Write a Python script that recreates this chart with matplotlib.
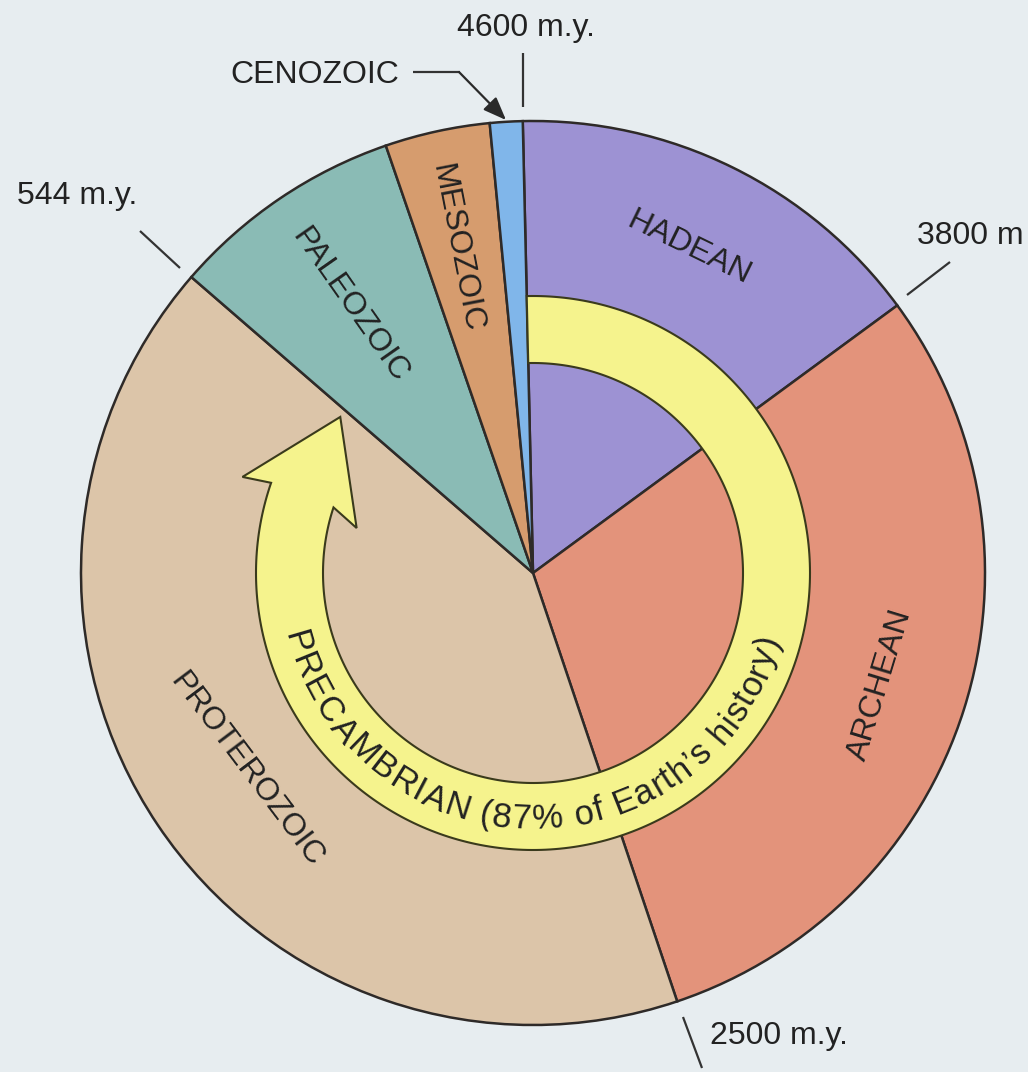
import numpy as np
import matplotlib
matplotlib.use("Agg")
import matplotlib.pyplot as plt
from matplotlib.patches import Polygon
from matplotlib.font_manager import FontProperties, findfont, get_font

# ---------------- data ----------------
eras = ["HADEAN", "ARCHEAN", "PROTEROZOIC", "PALEOZOIC", "MESOZOIC", "CENOZOIC"]
# share of the circle drawn for each era (degrees)
wedge_share_deg = [55.0, 107.7, 149.5, 30.1, 13.5, 4.2]
era_colors = ["#9d92d3", "#e3937b", "#dcc5a9", "#8abbb5", "#d69c6e", "#80b6ea"]
boundary_labels = ["4600 m.y.", "3800 m", "2500 m.y.", "544 m.y."]
ring_text = "PRECAMBRIAN (87% of Earth\u2019s history)"

W, H = 1028, 1072
fig = plt.figure(figsize=(W / 100, H / 100), dpi=100)
fig.patch.set_facecolor("#e7edf0")
ax = fig.add_axes([0, 0, 1, 1])
ax.set_facecolor("#e7edf0")

FONT = "Liberation Sans"
TXT = "#222222"

def Y(y_img):
    return H - y_img

cx, cy, R = 533, Y(573), 452

ax.pie(wedge_share_deg, colors=era_colors, startangle=91.3, counterclock=False,
       center=(cx, cy), radius=R,
       wedgeprops=dict(edgecolor="#2e2a28", linewidth=1.8))

def pol(theta_c, r):
    t = np.deg2rad(theta_c)
    return cx + r * np.sin(t), cy + r * np.cos(t)

# ---------------- yellow ring arrow ----------------
r_in, r_out = 210, 277
a0, a1 = -1.3, 289.0
ang = np.linspace(a0, a1, 300)
pts = [pol(a, r_out) for a in ang]
pts += [pol(288.3, 306), pol(309.0, 248), pol(284.3, 182), pol(288.2, r_in)]
ang2 = np.linspace(288.2, a0, 300)
pts += [pol(a, r_in) for a in ang2]
ring = Polygon(pts, closed=True, facecolor="#f5f38d", edgecolor="#3a3a1c",
               linewidth=1.5, zorder=5)
ax.add_patch(ring)

# curved text
ring_fs = 25
fp = FontProperties(family=FONT, size=ring_fs)
font = get_font(findfont(fp))
font.set_size(ring_fs, 100)
adv = []
for ch in ring_text:
    g = font.load_char(ord(ch))
    adv.append(g.linearHoriAdvance / 65536.0)
adv = np.array(adv)
cum = np.concatenate([[0], np.cumsum(adv)])
total = cum[-1]
t_start, t_end = 256.5, 105.0
r_base = 256
for i, ch in enumerate(ring_text):
    if ch == " ":
        continue
    s = (cum[i] + cum[i + 1]) / 2 / total
    th = t_start + (t_end - t_start) * s
    x, y = pol(th, r_base)
    ax.text(x, y, ch, fontproperties=fp, color=TXT, rotation=180 - th,
            rotation_mode="anchor", ha="center", va="baseline", zorder=7)

# ---------------- wedge labels ----------------
lab_fs = 23
wedge_labels = [
    ("HADEAN", 689, 248, -26),
    ("ARCHEAN", 880, 685, 73),
    ("PROTEROZOIC", 246, 770, -53),
    ("PALEOZOIC", 350, 305, -55),
    ("MESOZOIC", 457, 248, -79),
]
for name, xi, yi, rot in wedge_labels:
    ax.text(xi, Y(yi), name, family=FONT, fontsize=lab_fs, color=TXT,
            rotation=rot, rotation_mode="anchor", ha="center", va="center",
            zorder=8)

# ---------------- outside labels & ticks ----------------
line_kw = dict(color="#333333", linewidth=1.6, solid_capstyle="butt")
ax.text(526, Y(28), boundary_labels[0], family=FONT, fontsize=lab_fs, color=TXT,
        ha="center", va="center")
ax.plot([523, 523], [Y(53), Y(107)], **line_kw)

ax.text(1024, Y(236), boundary_labels[1], family=FONT, fontsize=lab_fs, color=TXT,
        ha="right", va="center")
ax.plot([950, 907], [Y(262), Y(295)], **line_kw)

ax.text(710, Y(1036), boundary_labels[2], family=FONT, fontsize=lab_fs, color=TXT,
        ha="left", va="center")
ax.plot([683, 702], [Y(1017), Y(1068)], **line_kw)

ax.text(17, Y(196), boundary_labels[3], family=FONT, fontsize=lab_fs, color=TXT,
        ha="left", va="center")
ax.plot([140, 180], [Y(231), Y(268)], **line_kw)

# Cenozoic pointer
ax.text(399, Y(75), eras[5], family=FONT, fontsize=lab_fs, color=TXT,
        ha="right", va="center")
ax.plot([413, 460], [Y(72), Y(72)], **line_kw)
ax.annotate("", xy=(506, Y(120)), xytext=(459, Y(72)),
            arrowprops=dict(arrowstyle="-|>,head_length=1.4,head_width=0.55",
                            color="#2a2a2a", lw=1.6, shrinkA=0, shrinkB=0))

ax.set_xlim(0, W)
ax.set_ylim(0, H)
ax.set_aspect("auto")
ax.axis("off")
fig.savefig("out.png", dpi=100, facecolor=fig.get_facecolor())
